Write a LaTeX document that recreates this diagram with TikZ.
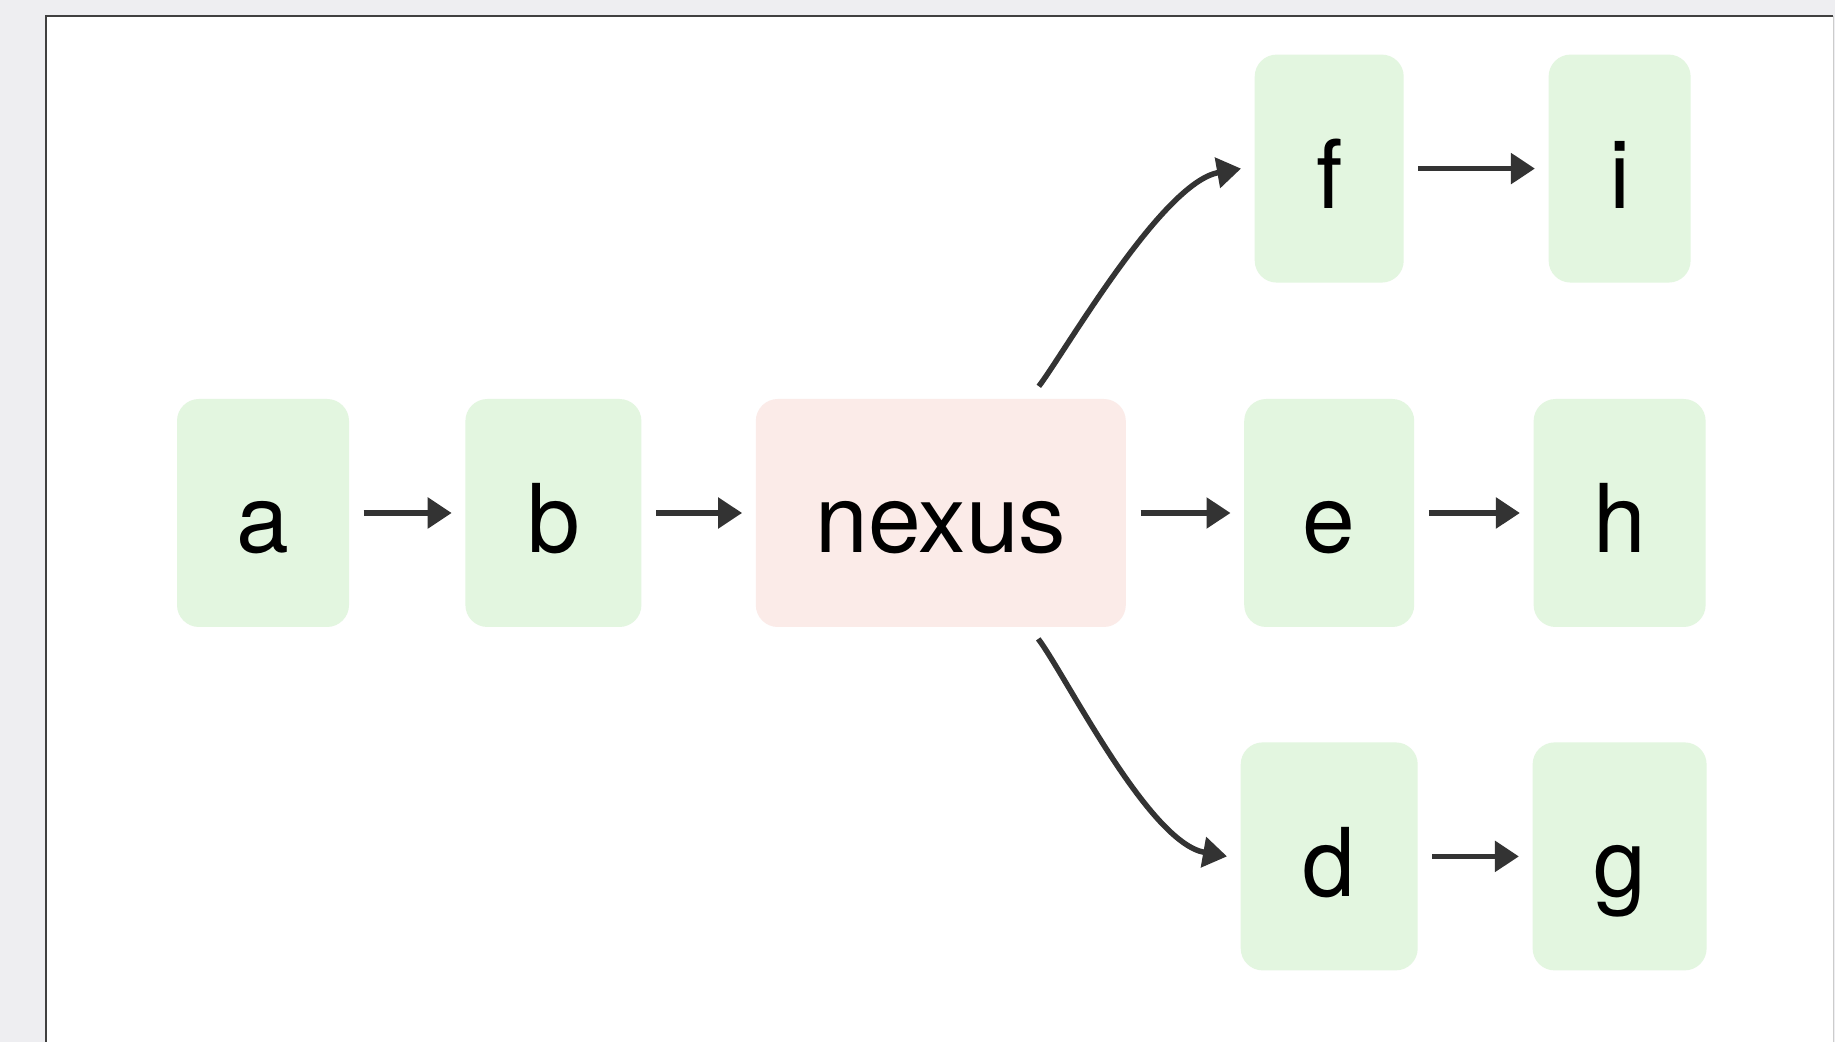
\documentclass[tikz,border=0pt]{standalone}
\usepackage{fontspec}
\setmainfont{TeX Gyre Heros}
\usetikzlibrary{positioning}
\usetikzlibrary{arrows.meta,calc}
\definecolor{boxgreen}{HTML}{E3F6E0}
\definecolor{boxpink}{HTML}{FBEBE8}
\definecolor{linkgray}{HTML}{333333}
\definecolor{paper}{HTML}{EEEEF1}
\tikzstyle{blk} = [rectangle, rounded corners=0.22cm, fill=boxgreen,
  minimum width=1.72cm, minimum height=2.28cm, text height=0.8cm, text depth=0pt,
  font=\fontsize{27}{32}\selectfont]
\tikzstyle{link} = [draw=linkgray, line width=0.055cm,
  -{Triangle[length=0.24cm,width=0.3cm]}, shorten <=0.14cm, shorten >=0.13cm]

\begin{document}
\begin{tikzpicture}[node distance=1.16cm]
  % sheet with its frame
  \fill[paper] (0,0) rectangle (18.35,-10.42);
  \fill[white] (0.46,-0.16) rectangle (18.33,-10.42);
  \draw[line width=0.025cm, black!75] (0.46,-10.42) -- (0.46,-0.16) -- (18.33,-0.16);
  \draw[line width=0.01cm, black!20] (18.33,-0.16) -- (18.33,-10.42);
  \useasboundingbox (0,0) rectangle (18.35,-10.42);

  \node[blk] (a) at (2.63,-5.13) {a};
  \node[blk, minimum width=1.76cm] (b) [right=1.15cm of a] {b};
  \node[blk, fill=boxpink, minimum width=3.70cm] (nexus) [right=1.13cm of b] {nexus};
  \node[blk, minimum width=1.70cm] (e) [right=1.17cm of nexus] {e};
  \node[blk] (h) [right=1.18cm of e] {h};
  \node[blk, minimum width=1.49cm] (f) [above=1.15cm of e] {f};
  \node[blk, minimum width=1.42cm] (i) [above=1.15cm of h] {i};
  \node[blk, minimum width=1.77cm] (d) [below=1.14cm of e] {d};
  \node[blk, minimum width=1.74cm] (g) [below=1.14cm of h] {g};

  \draw[link] (a) -- (b);
  \draw[link] (b) -- (nexus);
  \draw[link] (nexus) -- (e);
  \draw[link] (e) -- (h);
  \draw[link] (f) -- (i);
  \draw[link] (d) -- (g);

  % branches up and down
  \draw[link, shorten <=0.15cm, shorten >=0pt] ([xshift=0.89cm]nexus.north)
    .. controls +(53:0.6) and +(190:0.8) .. ([xshift=-0.13cm]f.west);
  \draw[link, shorten >=0pt] ([xshift=0.89cm]nexus.south)
    .. controls +(-53:0.6) and +(170:0.8) .. ([xshift=-0.13cm]d.west);
\end{tikzpicture}
\end{document}
